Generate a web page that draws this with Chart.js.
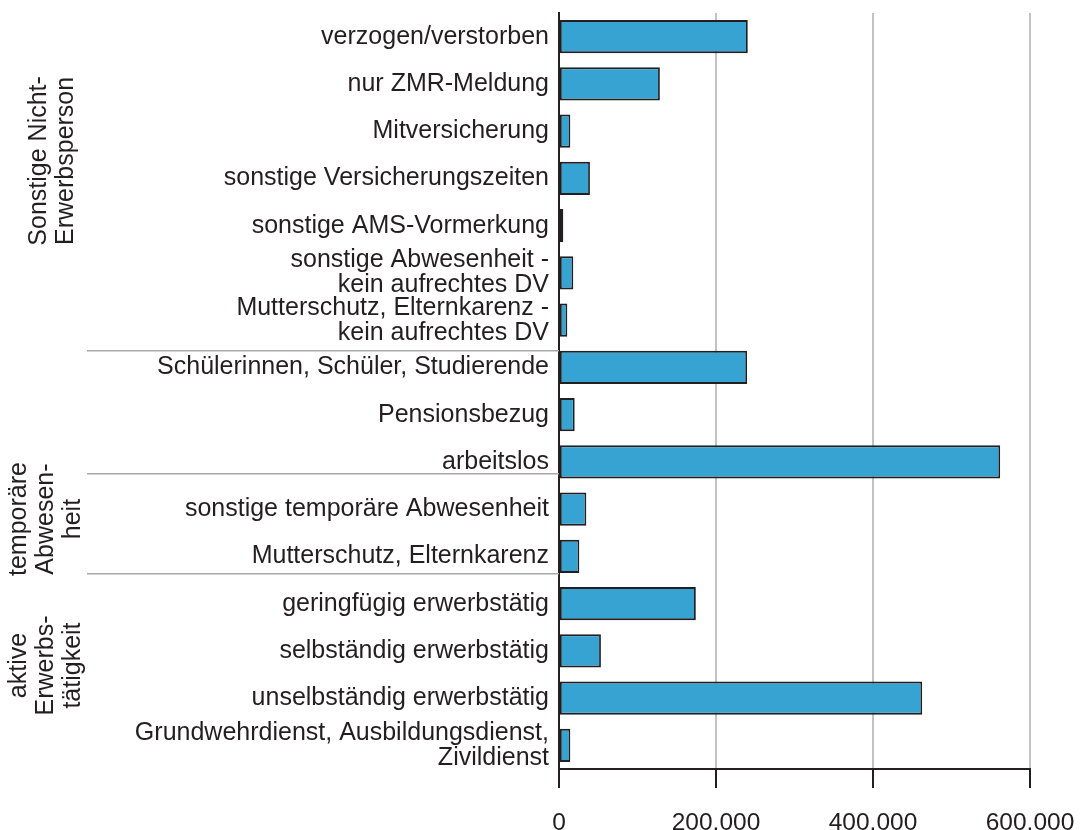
<!DOCTYPE html>
<html>
<head>
<meta charset="utf-8">
<title>Erwerbsstatus</title>
<script src="https://cdn.jsdelivr.net/npm/chart.js@4.4.1/dist/chart.umd.min.js"></script>
<style>
  html, body { margin: 0; padding: 0; background: #fff; }
  canvas { display: block; }
</style>
</head>
<body>
<canvas id="statusbar" width="1080" height="830"></canvas>
<script>
// categories top to bottom
var categories = [
  "verzogen/verstorben",
  "nur ZMR-Meldung",
  "Mitversicherung",
  "sonstige Versicherungszeiten",
  "sonstige AMS-Vormerkung",
  ["sonstige Abwesenheit -", "kein aufrechtes DV"],
  ["Mutterschutz, Elternkarenz -", "kein aufrechtes DV"],
  "Schülerinnen, Schüler, Studierende",
  "Pensionsbezug",
  "arbeitslos",
  "sonstige temporäre Abwesenheit",
  "Mutterschutz, Elternkarenz",
  "geringfügig erwerbstätig",
  "selbständig erwerbstätig",
  "unselbständig erwerbstätig",
  ["Grundwehrdienst, Ausbildungsdienst,", "Zivildienst"]
];
var persons = [240500, 128500, 14400, 39400, 5500, 18200, 10600, 239600, 20000, 562000, 34800, 25900, 174300, 53400, 462700, 14400];
var xTicks = [0, 200000, 400000, 600000];

// group labels on the left, placed in category units
var groupNames = [["Sonstige Nicht-", "Erwerbsperson"], ["temporäre", "Abwesen-", "heit"], ["aktive", "Erwerbs-", "tätigkeit"]];
var groupCenters = [2.63, 10.21, 13.31];
var separators = [6.65, 9.25, 11.37];

var ink = "#231f20";
var groupBaseX = [46, 26, 26];

Chart.defaults.font.family = "'Liberation Sans', Arial, Helvetica, sans-serif";

function fmt(v) {
  return String(v).replace(/\B(?=(\d{3})+(?!\d))/g, ".");
}

var groupPlugin = {
  id: "groups",
  beforeDatasetsDraw: function(chart) {
    var ctx = chart.ctx;
    var y = chart.scales.y;
    var left = chart.chartArea.left;
    ctx.save();
    ctx.strokeStyle = "#a8a8a8";
    ctx.lineWidth = 1.5;
    separators.forEach(function(v) {
      var py = y.getPixelForValue(v);
      ctx.beginPath();
      ctx.moveTo(87, py);
      ctx.lineTo(left, py);
      ctx.stroke();
    });
    ctx.fillStyle = ink;
    ctx.font = "25px " + Chart.defaults.font.family;
    ctx.textAlign = "center";
    ctx.textBaseline = "alphabetic";
    groupNames.forEach(function(lines, g) {
      var cy = y.getPixelForValue(groupCenters[g]);
      lines.forEach(function(line, i) {
        ctx.save();
        ctx.translate(groupBaseX[g] + i * 27, cy);
        ctx.rotate(-Math.PI / 2);
        ctx.fillText(line, 0, 0);
        ctx.restore();
      });
    });
    ctx.restore();
  }
};

var ctx = document.getElementById("statusbar").getContext("2d");
window.statusBar = new Chart(ctx, {
  type: "bar",
  data: {
    labels: categories,
    datasets: [{
      data: persons,
      backgroundColor: "#37a3d2",
      borderColor: ink,
      borderWidth: 1.8,
      borderSkipped: false,
      barPercentage: 0.7,
      categoryPercentage: 1
    }]
  },
  options: {
    indexAxis: "y",
    responsive: false,
    animation: false,
    layout: { padding: { top: 13, right: 0, bottom: 0, left: 0 } },
    plugins: {
      legend: { display: false },
      tooltip: { enabled: false }
    },
    scales: {
      x: {
        min: xTicks[0],
        max: xTicks[xTicks.length - 1],
        afterBuildTicks: function(scale) {
          scale.ticks = xTicks.map(function(v) { return { value: v }; });
        },
        afterFit: function(scale) {
          scale.height = 61;
          scale.paddingLeft = 0;
          scale.paddingRight = 50;
        },
        grid: { color: "#c2c2c2", lineWidth: 2, tickColor: ink, tickLength: 19, tickWidth: 2 },
        border: { color: ink, width: 2 },
        ticks: {
          color: ink,
          font: { size: 24.5 },
          padding: 21,
          maxRotation: 0,
          callback: function(v) { return fmt(v); }
        }
      },
      y: {
        afterFit: function(scale) {
          scale.width = 559;
          scale.paddingTop = 0;
          scale.paddingBottom = 0;
        },
        grid: { display: false },
        border: { display: true, color: ink, width: 2 },
        ticks: {
          color: ink,
          font: { size: 25, lineHeight: 1.0 },
          padding: 2,
          autoSkip: false
        }
      }
    }
  },
  plugins: [groupPlugin]
});
</script>
</body>
</html>
